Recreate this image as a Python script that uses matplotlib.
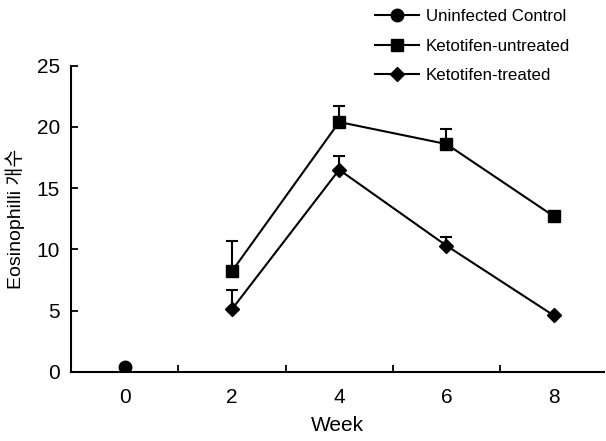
import numpy as np
import matplotlib.pyplot as plt
from matplotlib.ticker import FixedLocator

plt.rcParams['font.family'] = ['Liberation Sans', 'Noto Sans CJK KR', 'DejaVu Sans']

# datos
semanas = ['0', '2', '4', '6', '8']
control = [0.4]
control_err = [0.0]
no_tratado = [8.2, 20.4, 18.6, 12.7]
no_tratado_err = [2.5, 1.3, 1.2, 0.2]
tratado = [5.1, 16.5, 10.3, 4.6]
tratado_err = [1.6, 1.1, 0.7, 0.0]

fig = plt.figure(figsize=(6.06, 4.41), dpi=100)
ax = fig.add_axes([0.117, 0.157, 0.88, 0.694])

x = np.arange(len(semanas))

def serie(xs, ys, err, marcador, ms, etiqueta):
    ax.errorbar(xs, ys, yerr=[np.zeros(len(err)), err], fmt='none',
                ecolor='black', elinewidth=1.5, capsize=4.5, capthick=1.5, zorder=2)
    ax.plot(xs, ys, color='black', lw=1.5, marker=marcador, ms=ms,
            mfc='black', mec='black', label=etiqueta, zorder=3)

serie(x[:1], control, control_err, 'o', 9, 'Uninfected Control')
serie(x[1:], no_tratado, no_tratado_err, 's', 8.5, 'Ketotifen-untreated')
serie(x[1:], tratado, tratado_err, 'D', 7, 'Ketotifen-treated')

ax.set_xlim(-0.5, 4.47)
ax.set_ylim(0, 25)
ax.set_yticks([0, 5, 10, 15, 20, 25])
ax.set_xticks(x)
ax.set_xticklabels(semanas)
ax.xaxis.set_minor_locator(FixedLocator([0.5, 1.5, 2.5, 3.5]))
ax.tick_params(axis='x', which='major', length=0, pad=12, labelsize=15)
ax.tick_params(axis='x', which='minor', direction='in', length=5, width=1.3)
ax.tick_params(axis='y', direction='in', length=5, width=1.3, pad=8, labelsize=15)

for lado in ['top', 'right']:
    ax.spines[lado].set_visible(False)
for lado in ['left', 'bottom']:
    ax.spines[lado].set_linewidth(1.5)

ax.set_xlabel('Week', fontsize=15, labelpad=6)
ax.set_ylabel('Eosinophilli 개수', fontsize=14, labelpad=8)

fig.legend(loc='upper left', bbox_to_anchor=(0.608, 0.995), frameon=False,
           fontsize=12.2, handlelength=2.6, handletextpad=0.4, labelspacing=0.86,
           borderaxespad=0)

fig.savefig('out.png', dpi=100)
